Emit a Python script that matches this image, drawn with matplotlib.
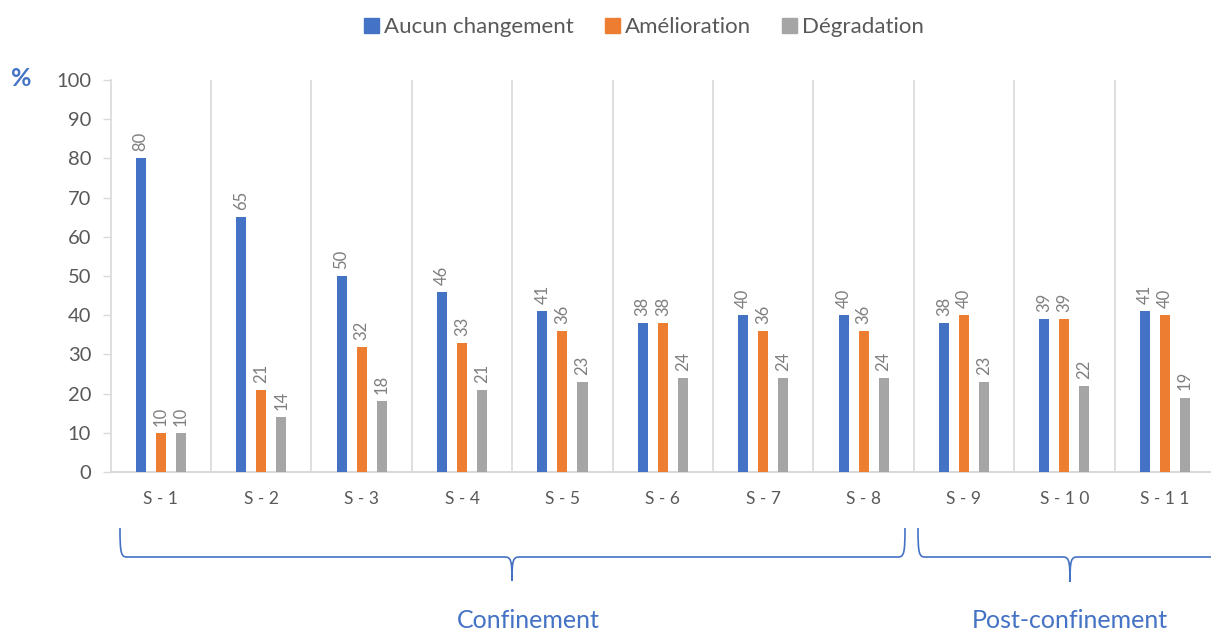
import numpy as np
import matplotlib.pyplot as plt
from matplotlib.path import Path
from matplotlib.patches import PathPatch, Patch

plt.rcParams["font.family"] = ["Lato", "DejaVu Sans"]

# data
weeks = ["S - 1", "S - 2", "S - 3", "S - 4", "S - 5", "S - 6",
         "S - 7", "S - 8", "S - 9", "S - 1 0", "S - 1 1"]
aucun = [80, 65, 50, 46, 41, 38, 40, 40, 38, 39, 41]
amelio = [10, 21, 32, 33, 36, 38, 36, 36, 40, 39, 40]
degrad = [10, 14, 18, 21, 23, 24, 24, 24, 23, 22, 19]
series_names = ["Aucun changement", "Amélioration", "Dégradation"]

blue = "#4472c4"
orange = "#ed7d31"
gray = "#a5a5a5"
txt = "#595959"
grid = "#d9d9d9"

W, H = 1211, 633
fig = plt.figure(figsize=(W / 100, H / 100), dpi=100)

# plot area in pixel coords
x0, x1 = 110.6, 1215.0
y0, y1 = 472, 80
ax = fig.add_axes([x0 / W, 1 - y0 / H, (x1 - x0) / W, (y0 - y1) / H])

x = np.arange(len(weeks))
bw = 0.1
offs = [-0.2, 0.0, 0.2]
cols = [blue, orange, gray]
for vals, off, c in zip([aucun, amelio, degrad], offs, cols):
    ax.bar(x + off, vals, width=bw, color=c, zorder=3)
    for xi, v in zip(x, vals):
        ax.text(xi + off, v + 1.8, str(v), rotation=90, ha="center", va="bottom",
                fontsize=12, color="#7f7f7f")

ax.set_xlim(-0.5, len(weeks) - 0.5)
ax.set_ylim(0, 100)
ax.set_yticks(range(0, 101, 10))
ax.tick_params(axis="y", labelsize=14.5, labelcolor=txt, color=grid, length=6,
               width=1, pad=8)
ax.tick_params(axis="x", length=0, pad=14)
ax.set_xticks(x)
ax.set_xticklabels(weeks, fontsize=12.5, color=txt)

for xv in np.arange(0.5, len(weeks) - 0.5, 1):
    ax.axvline(xv, color=grid, lw=1.2, zorder=1)
for s in ["top", "right"]:
    ax.spines[s].set_visible(False)
ax.spines["left"].set_color(grid)
ax.spines["bottom"].set_color(grid)
ax.spines["left"].set_linewidth(1.2)
ax.spines["bottom"].set_linewidth(1.5)

# legend
handles = [Patch(color=c) for c in cols]
fig.legend(handles, series_names, loc="center", bbox_to_anchor=(0.532, 1 - 27 / H),
           ncol=3, frameon=False, fontsize=16, handlelength=0.65, handleheight=0.65,
           handletextpad=0.25, columnspacing=1.4, labelcolor=txt)

# overlay for braces and notes
ov = fig.add_axes([0, 0, 1, 1])
ov.set_xlim(0, W)
ov.set_ylim(H, 0)
ov.axis("off")
ov.patch.set_alpha(0)

def brace(xa, xb, xm, ytop, yline, ytip):
    c = 7
    verts = [(xa, ytop), (xa, yline - 4), (xa + 1, yline), (xa + c, yline),
             (xm - c, yline),
             (xm - 1, yline), (xm, yline + 4), (xm, ytip),
             (xm, yline + 4), (xm + 1, yline), (xm + c, yline),
             (xb - c, yline),
             (xb - 1, yline), (xb, yline - 4), (xb, ytop)]
    codes = [Path.MOVETO, Path.CURVE4, Path.CURVE4, Path.CURVE4,
             Path.LINETO,
             Path.CURVE4, Path.CURVE4, Path.CURVE4,
             Path.CURVE4, Path.CURVE4, Path.CURVE4,
             Path.LINETO,
             Path.CURVE4, Path.CURVE4, Path.CURVE4]
    ov.add_patch(PathPatch(Path(verts, codes), fill=False, ec=blue, lw=1.2))

brace(120, 905, 512, 528, 557, 581)
brace(918, 1240, 1070, 528, 557, 582)

ov.text(528, 621, "Confinement", ha="center", va="center", fontsize=18, color=blue)
ov.text(1070, 621, "Post-confinement", ha="center", va="center", fontsize=18, color=blue)
ov.text(21, 78, "%", ha="center", va="center", fontsize=18, color=blue, fontweight="bold")

fig.savefig("out.png", dpi=100, facecolor="white")
